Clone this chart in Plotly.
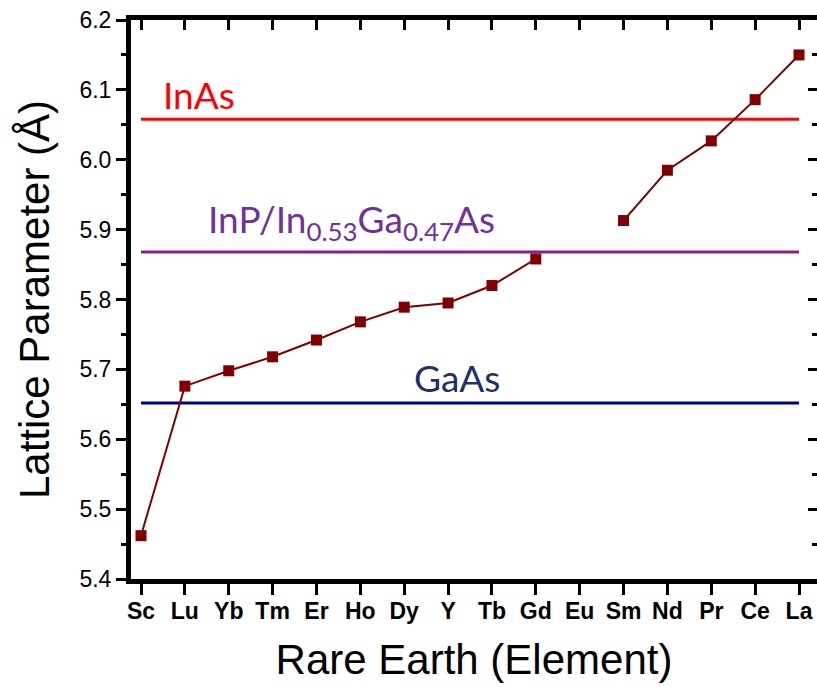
import plotly.graph_objects as go

# Rare-earth elements along the x axis and their lattice parameters (Å)
elements = ["Sc", "Lu", "Yb", "Tm", "Er", "Ho", "Dy", "Y", "Tb", "Gd",
            "Eu", "Sm", "Nd", "Pr", "Ce", "La"]
lattice = [5.462, 5.676, 5.698, 5.718, 5.742, 5.768, 5.789, 5.795, 5.820, 5.858,
           None, 5.913, 5.985, 6.027, 6.086, 6.150]

# Reference substrate lattice constants (Å)
substrates = ["InAs", "InP/In<sub>0.53</sub>Ga<sub>0.47</sub>As", "GaAs"]
substrate_a = [6.058, 5.868, 5.652]
line_colors = ["#ff0000", "#8c1c8c", "#00008c"]
text_colors = ["#ff0000", "#7030a0", "#1f2f6e"]

y_ticks = [5.4, 5.5, 5.6, 5.7, 5.8, 5.9, 6.0, 6.1, 6.2]

x_range = [-0.228, 15.41]
y_range = [5.4, 6.2]

fig = go.Figure()

for name, a, col in zip(substrates, substrate_a, line_colors):
    fig.add_trace(go.Scatter(
        x=[elements[0], elements[-1]], y=[a, a], mode="lines",
        line=dict(color=col, width=3), showlegend=False, hoverinfo="skip",
    ))

fig.add_trace(go.Scatter(
    x=elements, y=lattice, mode="lines+markers", connectgaps=False,
    line=dict(color="#800000", width=2),
    marker=dict(symbol="square", size=11, color="#800000"),
    showlegend=False,
))

# Empty trace so the mirrored top/right axes are rendered
fig.add_trace(go.Scatter(
    x=[0], y=[5.4], xaxis="x2", yaxis="y2", mode="markers",
    marker=dict(opacity=0), showlegend=False, hoverinfo="skip",
))

# Substrate labels placed just above their reference lines
label_pos = [(0.456, 6.094), (1.49, 5.911), (6.18, 5.688)]
for name, (lx, ly), col in zip(substrates, label_pos, text_colors):
    fig.add_annotation(
        x=lx, y=ly, xref="x", yref="y", text=name, showarrow=False,
        xanchor="left", yanchor="middle",
        font=dict(family="Lato", size=37, color=col),
    )

tick_font = dict(family="Liberation Sans", size=23, color="#000000")

fig.update_layout(
    width=817, height=687,
    margin=dict(l=131, r=0, t=20, b=108),
    paper_bgcolor="white", plot_bgcolor="white",
    xaxis=dict(
        type="category", categoryarray=elements, categoryorder="array",
        range=x_range, showgrid=False, zeroline=False,
        showline=True, linecolor="black", linewidth=5,
        ticks="outside", ticklen=11, tickwidth=3, tickcolor="black",
        ticklabelstandoff=-4,
        tickfont=dict(family="Liberation Sans", size=23, color="#000000",
                      weight="bold"),
        title=dict(text="Rare Earth (Element)", standoff=24,
                   font=dict(family="Liberation Sans", size=42, color="black")),
    ),
    xaxis2=dict(
        overlaying="x", side="top", anchor="y2", range=x_range,
        tickmode="array", tickvals=list(range(len(elements))),
        showticklabels=False, showgrid=False, zeroline=False,
        showline=True, linecolor="black", linewidth=5,
        ticks="inside", ticklen=10, tickwidth=3, tickcolor="black",
    ),
    yaxis=dict(
        range=y_range, tickmode="array", tickvals=y_ticks,
        ticktext=[f"{v:.1f}" for v in y_ticks],
        showgrid=False, zeroline=False,
        showline=True, linecolor="black", linewidth=5,
        ticks="outside", ticklen=10, tickwidth=3, tickcolor="black",
        minor=dict(ticks="outside", ticklen=5, tickwidth=3, tickcolor="black",
                   dtick=0.05, tick0=5.4, showgrid=False),
        tickfont=tick_font,
        title=dict(text="Lattice Parameter (Å)", standoff=18,
                   font=dict(family="Liberation Sans", size=42, color="black")),
    ),
    yaxis2=dict(
        overlaying="y", side="right", anchor="x2", range=y_range,
        tickmode="array", tickvals=y_ticks, showticklabels=False,
        showgrid=False, zeroline=False, showline=False,
        ticks="inside", ticklen=9, tickwidth=3, tickcolor="black",
        minor=dict(ticks="inside", ticklen=5, tickwidth=3, tickcolor="black",
                   dtick=0.05, tick0=5.4, showgrid=False),
    ),
)

fig.write_html("out.html")
